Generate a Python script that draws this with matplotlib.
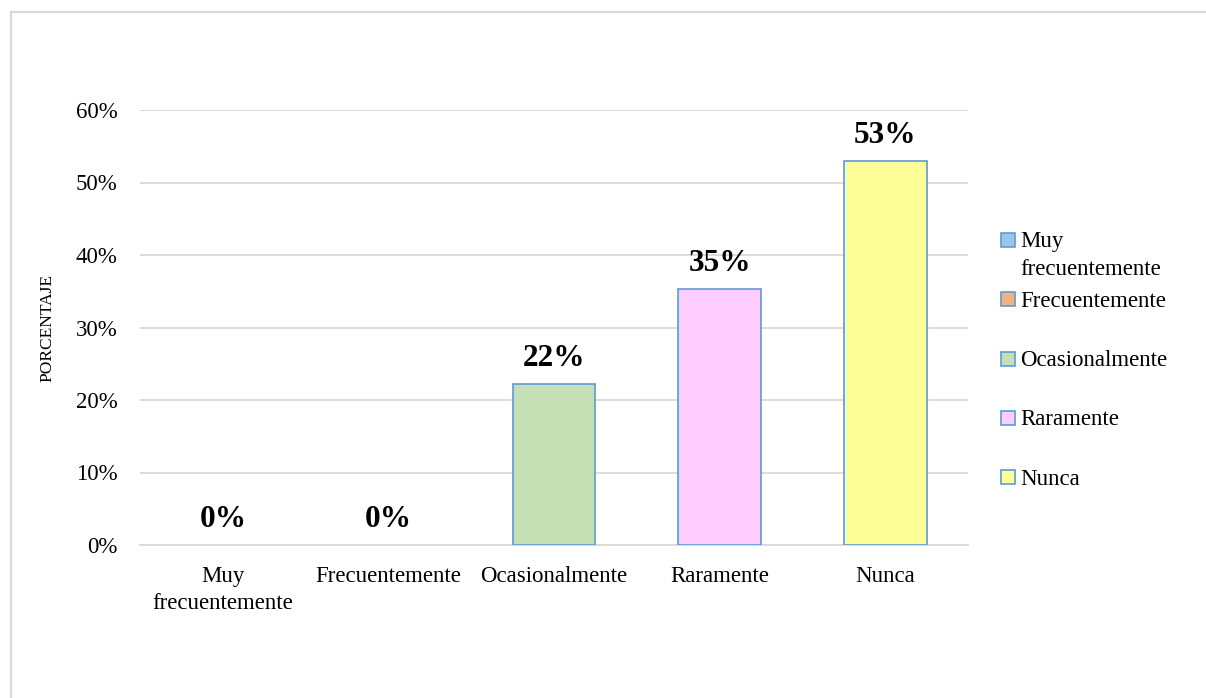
import numpy as np
import matplotlib
matplotlib.use('Agg')
import matplotlib.pyplot as plt
from matplotlib.patches import Rectangle
from matplotlib.lines import Line2D
from matplotlib.ticker import PercentFormatter

plt.rcParams['font.family'] = ['Liberation Serif', 'DejaVu Serif']

categories = ['Muy\nfrecuentemente', 'Frecuentemente', 'Ocasionalmente', 'Raramente', 'Nunca']
values = [0.0, 0.0, 0.222, 0.353, 0.529]
labels = ['0%', '0%', '22%', '35%', '53%']
colors = ['#9DC3E6', '#F4B183', '#C5E0B4', '#FFCCFF', '#FFFF99']
edge = '#5B9BD5'
grid_c = '#D9D9D9'

W, H = 1206, 698
fig = plt.figure(figsize=[W / 100, H / 100], dpi=100)
ax = fig.add_axes([140 / W, 1 - 545 / H, 828 / W, 435 / H])

x = np.arange(len(categories))
bars = ax.bar(x, values, width=0.5, color=colors, edgecolor=edge, linewidth=1.2, zorder=3)
for b, v in zip(bars, values):
    if v == 0:
        b.set_edgecolor('none')

for xi, v, lab in zip(x, values, labels):
    ax.annotate(lab, (xi, v), xytext=(0, 8), textcoords='offset points',
                ha='center', va='bottom', fontsize=22.5, fontweight='bold')

ax.set_xlim(-0.5, 4.5)
ax.set_ylim(0, 0.6)
ax.set_yticks(np.arange(0, 0.61, 0.1))
ax.yaxis.set_major_formatter(PercentFormatter(1.0, decimals=0))
ax.set_xticks(x)
ax.set_xticklabels(categories, fontsize=16.5, linespacing=1.4)
ax.tick_params(axis='y', labelsize=16.5, length=0, pad=16)
ax.tick_params(axis='x', length=0, pad=15)
ax.grid(axis='y', color=grid_c, linewidth=1.3, zorder=0)
for s in ['top', 'right', 'left']:
    ax.spines[s].set_visible(False)
ax.spines['bottom'].set_color(grid_c)
ax.spines['bottom'].set_linewidth(1.3)
ax.set_ylabel('PORCENTAJE', fontsize=12.5, labelpad=15)

# legend drawn entry by entry (Excel-style: fixed slot height, first line aligned with key)
leg_y0 = 240
leg_step = 59.3
for i, (c, lab) in enumerate(zip(colors, categories)):
    yc = leg_y0 + i * leg_step
    fig.add_artist(Rectangle((1001 / W, 1 - (yc + 7) / H), 14 / W, 14 / H,
                             transform=fig.transFigure, facecolor=c,
                             edgecolor=edge, linewidth=1.2))
    fig.text(1020 / W, 1 - (yc - 8.5) / H, lab, fontsize=16.5, ha='left',
             va='top', linespacing=1.4)

# outer chart frame (only top and left edges visible)
fig.add_artist(Line2D([11 / W, 11 / W], [0, 1 - 12 / H], transform=fig.transFigure,
                      color=grid_c, linewidth=1.5))
fig.add_artist(Line2D([11 / W, 1], [1 - 12 / H, 1 - 12 / H], transform=fig.transFigure,
                      color=grid_c, linewidth=1.5))

fig.savefig('out.png', dpi=100)
